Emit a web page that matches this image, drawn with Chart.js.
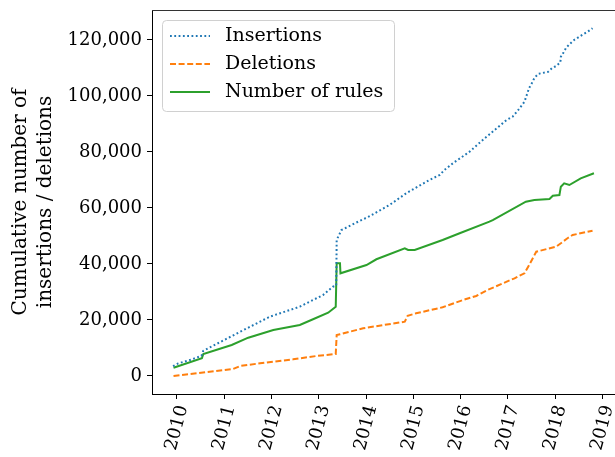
<!DOCTYPE html>
<html>
<head>
<meta charset="utf-8">
<script src="https://cdn.jsdelivr.net/npm/chart.js@4.4.1/dist/chart.umd.min.js"></script>
<style>
  html, body { margin: 0; padding: 0; background: #fff; }
  canvas { display: block; }
</style>
</head>
<body>
<canvas id="chart" width="615" height="457"></canvas>
<script>
// values (decimal years / cumulative counts)
const insYears = [2009.92, 2010.03, 2010.30, 2010.52, 2010.56, 2011.34, 2011.97, 2012.60, 2012.74, 2013.09, 2013.30, 2013.37, 2013.38, 2013.48, 2013.76, 2014.08, 2014.50, 2014.85, 2015.34, 2015.56, 2015.66, 2015.84, 2016.19, 2016.47, 2016.97, 2017.10, 2017.22, 2017.35, 2017.45, 2017.49, 2017.56, 2017.64, 2017.85, 2017.93, 2018.03, 2018.11, 2018.12, 2018.18, 2018.23, 2018.31, 2018.40, 2018.49, 2018.59, 2018.69, 2018.79];
const insValues = [3500, 4500, 5800, 7200, 9000, 15800, 21200, 24750, 25960, 28900, 31900, 32200, 48600, 52100, 54500, 57100, 61100, 65250, 70000, 71800, 73600, 76000, 80100, 84300, 91400, 92600, 95000, 97900, 102900, 104000, 106400, 107900, 108600, 109900, 110800, 112000, 114000, 115600, 117200, 118600, 120000, 120950, 122000, 123000, 124200];

const delYears = [2009.93, 2010.42, 2011.19, 2011.34, 2011.76, 2012.46, 2012.95, 2013.36, 2013.38, 2013.45, 2013.94, 2014.82, 2014.88, 2015.06, 2015.62, 2016.05, 2016.33, 2016.57, 2017.14, 2017.35, 2017.45, 2017.60, 2018.02, 2018.12, 2018.26, 2018.37, 2018.79];
const delValues = [0, 960, 2500, 3570, 4540, 5960, 7140, 7860, 14600, 14900, 17040, 19390, 21500, 22390, 24530, 27140, 28570, 30710, 34890, 36680, 39640, 44390, 46180, 47390, 49180, 50360, 51890];

const ruleYears = [2009.93, 2010.53, 2010.56, 2011.16, 2011.51, 2012.04, 2012.60, 2012.88, 2013.20, 2013.36, 2013.38, 2013.45, 2013.46, 2014.01, 2014.22, 2014.82, 2014.89, 2015.03, 2015.62, 2015.98, 2016.61, 2016.68, 2017.38, 2017.56, 2017.88, 2017.95, 2018.09, 2018.12, 2018.19, 2018.30, 2018.54, 2018.82];
const ruleValues = [2960, 6320, 7860, 11070, 13680, 16430, 18210, 20250, 22600, 24750, 40250, 40250, 36680, 39640, 41680, 45600, 45000, 45000, 48570, 50960, 55100, 55700, 62250, 62860, 63210, 64390, 64640, 67600, 68820, 68210, 70600, 72390];

const xTicks = [2010, 2011, 2012, 2013, 2014, 2015, 2016, 2017, 2018, 2019];
const yTicks = [0, 20000, 40000, 60000, 80000, 100000, 120000];

const seriesNames = ['Insertions', 'Deletions', 'Number of rules'];
const seriesColors = ['#1f77b4', '#ff7f0e', '#2ca02c'];
const seriesDash = [[1.8, 2.5], [6, 2.6], []];

const FONT = "'DejaVu Serif', serif";

function toPoints(xs, ys) {
    return xs.map((x, i) => ({ x: x, y: ys[i] }));
}

const allData = [toPoints(insYears, insValues), toPoints(delYears, delValues), toPoints(ruleYears, ruleValues)];

// legend box drawn inside the plot, plus the top spine
const framePlugin = {
    id: 'frame',
    afterDraw(chart) {
        const ctx = chart.ctx;
        const a = chart.chartArea;
        ctx.save();
        ctx.strokeStyle = '#333';
        ctx.lineWidth = 1;
        ctx.beginPath();
        ctx.moveTo(a.left, a.top + 0.5);
        ctx.lineTo(a.right, a.top + 0.5);
        ctx.stroke();

        // legend
        const bx = 162.5, by = 20.5, bw = 232, bh = 91, r = 4;
        ctx.beginPath();
        ctx.moveTo(bx + r, by);
        ctx.arcTo(bx + bw, by, bx + bw, by + bh, r);
        ctx.arcTo(bx + bw, by + bh, bx, by + bh, r);
        ctx.arcTo(bx, by + bh, bx, by, r);
        ctx.arcTo(bx, by, bx + bw, by, r);
        ctx.closePath();
        ctx.fillStyle = 'rgba(255,255,255,0.8)';
        ctx.fill();
        ctx.strokeStyle = '#d0d0d0';
        ctx.stroke();

        ctx.font = '19px ' + FONT;
        ctx.textBaseline = 'middle';
        ctx.fillStyle = '#000';
        const rowsY = [36, 64, 92];
        chart.data.datasets.forEach((ds, i) => {
            const y = rowsY[i];
            ctx.beginPath();
            ctx.setLineDash(ds.borderDash || []);
            ctx.strokeStyle = ds.borderColor;
            ctx.lineWidth = ds.borderWidth;
            ctx.moveTo(170, y);
            ctx.lineTo(210, y);
            ctx.stroke();
            ctx.setLineDash([]);
            ctx.fillText(ds.label, 225, y);
        });
        ctx.restore();
    }
};

new Chart(document.getElementById('chart').getContext('2d'), {
    type: 'line',
    data: {
        datasets: seriesNames.map((name, i) => ({
            label: name,
            data: allData[i],
            borderColor: seriesColors[i],
            backgroundColor: seriesColors[i],
            borderDash: seriesDash[i],
            borderWidth: 2,
            pointRadius: 0,
            tension: 0,
            fill: false
        }))
    },
    options: {
        responsive: false,
        devicePixelRatio: 1,
        animation: false,
        layout: { padding: { top: 10, right: 0, left: 0, bottom: 0 } },
        plugins: {
            legend: { display: false },
            tooltip: { enabled: false }
        },
        scales: {
            x: {
                type: 'linear',
                min: 2009.475,
                max: 2019.265,
                afterBuildTicks: (scale) => { scale.ticks = xTicks.map(v => ({ value: v })); },
                afterFit: (scale) => {
                    scale.height = 63;
                    scale.paddingLeft = 0;
                    scale.paddingRight = 0;
                },
                grid: { drawOnChartArea: false, drawTicks: true, tickLength: 5, color: '#000' },
                border: { display: true, color: '#000', width: 1 },
                ticks: {
                    color: '#000',
                    font: { family: FONT, size: 18 },
                    minRotation: 75,
                    maxRotation: 75,
                    padding: 4,
                    labelOffset: 6,
                    callback: (v) => String(v)
                }
            },
            y: {
                type: 'linear',
                min: -6430,
                max: 130700,
                afterBuildTicks: (scale) => { scale.ticks = yTicks.map(v => ({ value: v })); },
                afterFit: (scale) => {
                    scale.width = 152;
                    scale.paddingTop = 0;
                    scale.paddingBottom = 0;
                },
                grid: { drawOnChartArea: false, drawTicks: true, tickLength: 5, color: '#000' },
                border: { display: true, color: '#000', width: 1 },
                ticks: {
                    color: '#000',
                    font: { family: FONT, size: 18 },
                    padding: 5,
                    callback: (v) => v.toLocaleString('en-US')
                },
                title: {
                    display: true,
                    text: ['Cumulative number of', 'insertions / deletions'],
                    color: '#000',
                    font: { family: FONT, size: 20, lineHeight: 1.25 },
                    padding: { top: 8, bottom: 0 }
                }
            }
        }
    },
    plugins: [framePlugin]
});
</script>
</body>
</html>
